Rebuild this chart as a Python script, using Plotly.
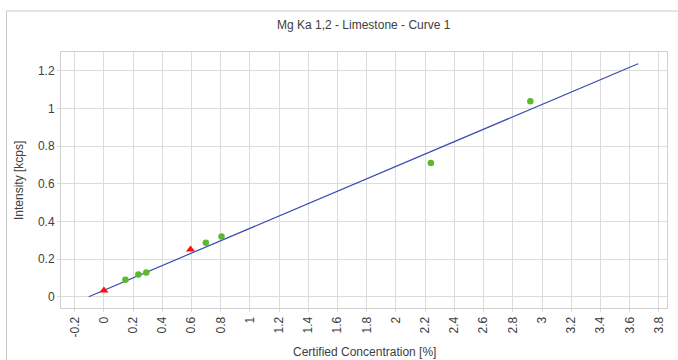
import plotly.graph_objects as go

# Data
std_x = [0.147, 0.236, 0.29, 0.698, 0.805, 2.239, 2.92]
std_y = [0.09, 0.118, 0.129, 0.287, 0.32, 0.71, 1.037]
chk_x = [0.0, 0.593]
chk_y = [0.033, 0.25]
line_x = [-0.104, 3.658]
line_y = [0.0, 1.237]
x_ticks = [-0.2, 0, 0.2, 0.4, 0.6, 0.8, 1, 1.2, 1.4, 1.6, 1.8, 2, 2.2, 2.4, 2.6, 2.8, 3, 3.2, 3.4, 3.6, 3.8]
x_labels = ["-0.2", "0", "0.2", "0.4", "0.6", "0.8", "1", "1.2", "1.4", "1.6", "1.8", "2",
            "2.2", "2.4", "2.6", "2.8", "3", "3.2", "3.4", "3.6", "3.8"]
y_ticks = [0, 0.2, 0.4, 0.6, 0.8, 1, 1.2]
y_labels = ["0", "0.2", "0.4", "0.6", "0.8", "1", "1.2"]

FONT = "Liberation Sans, Arial, sans-serif"
TXT = "#404040"

fig = go.Figure()
fig.add_trace(go.Scatter(x=line_x, y=line_y, mode="lines",
                         line=dict(color="#3a4bb0", width=1.2), showlegend=False))
fig.add_trace(go.Scatter(x=std_x, y=std_y, mode="markers",
                         marker=dict(symbol="circle", size=6.5, color="#5cb82e"), showlegend=False))
fig.add_trace(go.Scatter(x=chk_x, y=chk_y, mode="markers",
                         marker=dict(symbol="triangle-up", size=8, color="#ff1010"), showlegend=False))

axis_common = dict(showgrid=True, gridcolor="#dcdcdc", gridwidth=1,
                   showline=True, linecolor="#cfcfcf", linewidth=1, mirror=True,
                   ticks="outside", ticklen=3, tickcolor="#dcdcdc",
                   zeroline=False, tickfont=dict(family=FONT, size=12, color=TXT))

fig.update_xaxes(range=[-0.294, 3.856], tickvals=x_ticks, ticktext=x_labels,
                 tickangle=-90, **axis_common)
fig.update_yaxes(range=[-0.060, 1.299], tickvals=y_ticks, ticktext=y_labels, **axis_common)

fig.update_layout(
    width=678, height=360,
    margin=dict(l=61, r=11, t=52, b=52),
    paper_bgcolor="white", plot_bgcolor="white",
    font=dict(family=FONT, size=12, color=TXT),
    annotations=[
        dict(text="Mg Ka 1,2 - Limestone - Curve 1", xref="paper", yref="paper",
             x=0.5, y=(308 - 25) / 256, xanchor="center", yanchor="middle",
             showarrow=False, font=dict(family=FONT, size=12, color=TXT)),
        dict(text="Certified Concentration [%]", xref="paper", yref="paper",
             x=0.5, y=(308 - 352) / 256, xanchor="center", yanchor="middle",
             showarrow=False, font=dict(family=FONT, size=12, color=TXT)),
        dict(text="Intensity [kcps]", xref="paper", yref="paper",
             x=(19 - 61) / 606, y=0.5, xanchor="center", yanchor="middle", textangle=-90,
             showarrow=False, font=dict(family=FONT, size=12, color=TXT)),
    ],
    shapes=[
        dict(type="line", xref="paper", yref="paper",
             x0=(6.5 - 61) / 606, x1=1.2, y0=(308 - 11) / 256, y1=(308 - 11) / 256,
             line=dict(color="#c8c8c8", width=1)),
        dict(type="line", xref="paper", yref="paper",
             x0=(6.5 - 61) / 606, x1=(6.5 - 61) / 606, y0=(308 - 11) / 256, y1=-0.4,
             line=dict(color="#c8c8c8", width=1)),
    ],
)

fig.write_html("out.html")
